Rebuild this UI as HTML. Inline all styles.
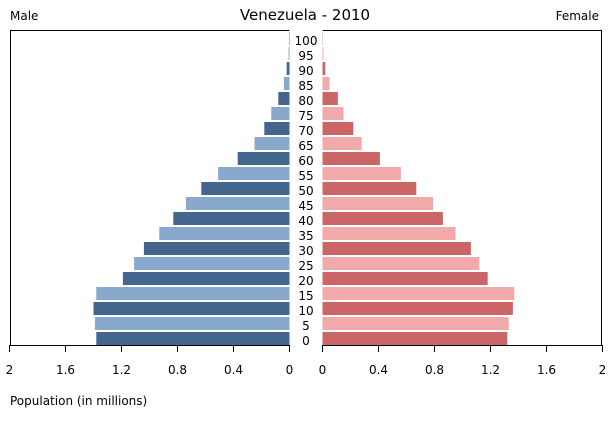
<!DOCTYPE html>
<html><head><meta charset="utf-8"><style>
body{margin:0;background:#fff;}
svg text{font-family:"DejaVu Sans","Liberation Sans",sans-serif;fill:#000;}
</style></head><body>
<svg width="610" height="425" id="chart">
<rect width="610" height="425" fill="#fff"/>
<text x="305" y="20" font-size="15" text-anchor="middle">Venezuela - 2010</text>
<text x="10" y="20" font-size="12">Male</text>
<text x="599" y="20" font-size="12" text-anchor="end">Female</text>
<text x="10" y="405" font-size="12">Population (in millions)</text>
<g id="frame" fill="none" stroke="#000" stroke-width="1">
<path d="M10.5,345 V30.5 H289.5"/>
<path d="M322.5,30.5 H601.5 V345"/>
</g>
<g id="bars"></g>
<g id="axes"></g>
</svg>
<script>
const ages=[0,5,10,15,20,25,30,35,40,45,50,55,60,65,70,75,80,85,90,95,100];
const male=[1.38,1.39,1.40,1.38,1.19,1.11,1.04,0.93,0.83,0.74,0.63,0.51,0.37,0.25,0.18,0.13,0.08,0.04,0.02,0.007,0.003];
const female=[1.32,1.33,1.36,1.37,1.18,1.12,1.06,0.95,0.86,0.79,0.67,0.56,0.41,0.28,0.22,0.15,0.11,0.05,0.02,0.007,0.002];
const ticks=[0,0.4,0.8,1.2,1.6,2];
const NS="http://www.w3.org/2000/svg";
const mZero=289.5,fZero=322.5,pxPer=140,base=345,step=15,bh=13;
const xm=v=>mZero-v*pxPer, xf=v=>fZero+v*pxPer, yb=i=>base-step*i;
const bars=document.getElementById('bars'),axes=document.getElementById('axes');
function mk(t,a,p){const e=document.createElementNS(NS,t);for(const k in a)e.setAttribute(k,a[k]);p.appendChild(e);return e;}
ages.forEach((a,i)=>{
 const dark=i%2===0;
 const r1=mk('rect',{x:xm(male[i]),y:yb(i)-bh,width:male[i]*pxPer,height:bh,fill:dark?'#44668c':'#88a8cd'},bars);
 
 
 const r2=mk('rect',{x:fZero,y:yb(i)-bh,width:female[i]*pxPer,height:bh,fill:dark?'#cc6666':'#f2a9a9'},bars);
 
 
 const t=mk('text',{x:306,y:yb(i),'font-size':12,'text-anchor':'middle'},bars);
 t.textContent=a;
 
 
});
mk('line',{x1:10,x2:290,y1:345.5,y2:345.5,stroke:'#000'},axes);
mk('line',{x1:322,x2:602,y1:345.5,y2:345.5,stroke:'#000'},axes);
ticks.forEach(v=>{
 [[xm(v),'male'],[xf(v),'female']].forEach(([x,s])=>{
  mk('line',{x1:x,x2:x,y1:345,y2:352,stroke:'#000'},axes);
  const t=mk('text',{x:x,y:374,'font-size':12,'text-anchor':'middle'},axes);
  t.textContent=String(v);
  
  
 });
});
</script>
</body></html>
